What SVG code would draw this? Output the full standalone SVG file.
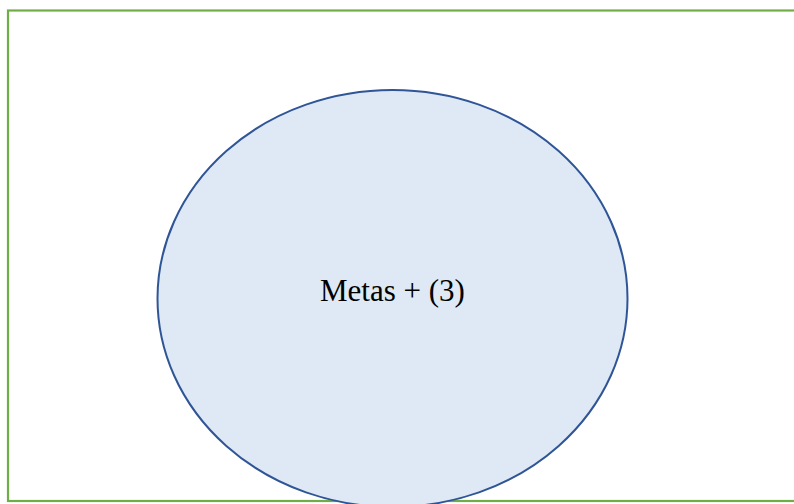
<svg xmlns="http://www.w3.org/2000/svg" width="794" height="504" viewBox="0 0 794 504">
<style>
.frame{fill:none;stroke:#70AD47;stroke-width:2.2}
.node{fill:#DEE9F5;stroke:#2F5597;stroke-width:2}
.lbl{font-family:"Liberation Serif","Times New Roman",serif;font-size:31px;fill:#000;text-anchor:middle}
</style>
<rect width="794" height="504" fill="#fff"/>
<g id="frame"><rect class="frame" x="8" y="10.5" width="800" height="490.5"/></g>
<g id="connectors"></g>
<g id="metas">
<ellipse class="node" cx="392.5" cy="298.5" rx="235" ry="208.5"/>
<text class="lbl" x="392.5" y="301">Metas + (3)</text>
</g>
</svg>
